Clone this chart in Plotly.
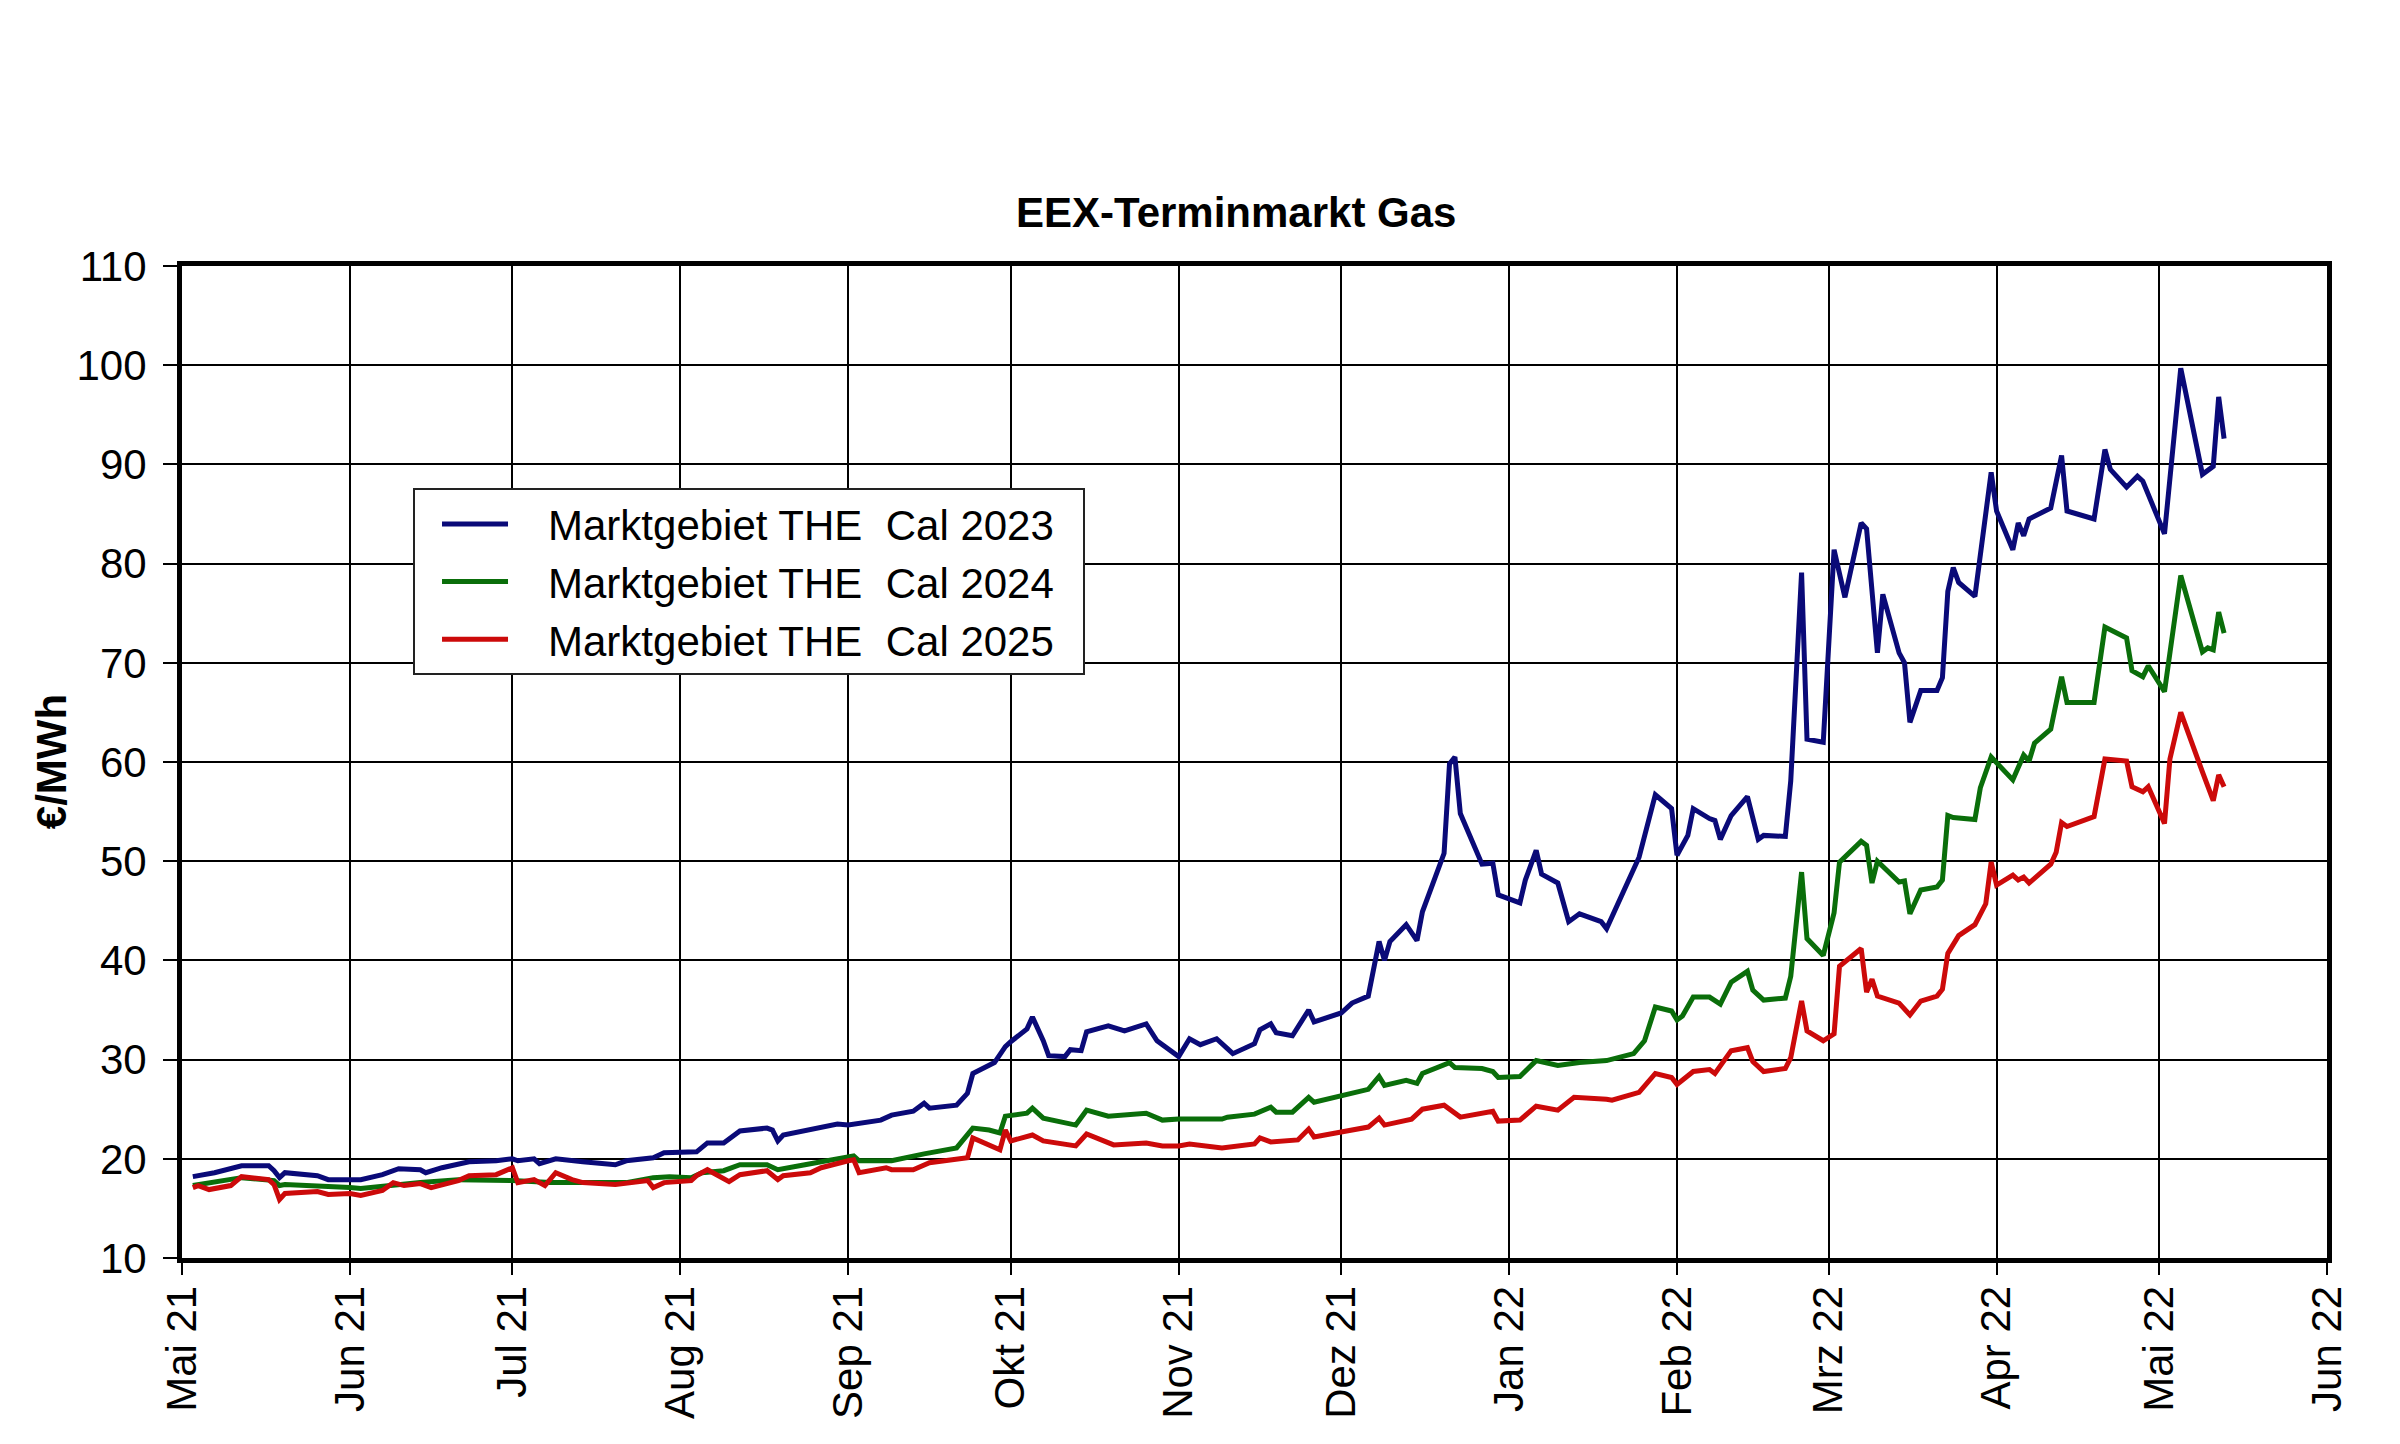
import plotly.graph_objects as go

# Marktgebiet THE Cal 2023
dates_2023 = [
    "2021-05-03", "2021-05-04", "2021-05-07", "2021-05-12", "2021-05-17", "2021-05-18", "2021-05-19",
    "2021-05-20", "2021-05-26", "2021-05-28", "2021-06-01", "2021-06-03", "2021-06-07", "2021-06-10",
    "2021-06-14", "2021-06-15", "2021-06-18", "2021-06-23", "2021-06-28", "2021-07-01", "2021-07-02",
    "2021-07-05", "2021-07-06", "2021-07-09", "2021-07-14", "2021-07-20", "2021-07-22", "2021-07-27",
    "2021-07-29", "2021-08-03", "2021-08-04", "2021-08-06", "2021-08-09", "2021-08-12", "2021-08-17",
    "2021-08-18", "2021-08-19", "2021-08-20", "2021-08-25", "2021-08-30", "2021-09-01", "2021-09-07",
    "2021-09-09", "2021-09-13", "2021-09-15", "2021-09-16", "2021-09-21", "2021-09-23", "2021-09-24",
    "2021-09-28", "2021-09-30", "2021-10-01", "2021-10-04", "2021-10-05", "2021-10-07", "2021-10-08",
    "2021-10-11", "2021-10-12", "2021-10-14", "2021-10-15", "2021-10-19", "2021-10-22", "2021-10-26",
    "2021-10-28", "2021-11-01", "2021-11-03", "2021-11-05", "2021-11-08", "2021-11-10", "2021-11-11",
    "2021-11-15", "2021-11-16", "2021-11-18", "2021-11-19", "2021-11-22", "2021-11-25", "2021-11-26",
    "2021-12-01", "2021-12-03", "2021-12-06", "2021-12-08", "2021-12-09", "2021-12-10", "2021-12-13",
    "2021-12-15", "2021-12-16", "2021-12-20", "2021-12-21", "2021-12-22", "2021-12-23", "2021-12-27",
    "2021-12-29", "2021-12-30", "2022-01-03", "2022-01-04", "2022-01-06", "2022-01-07", "2022-01-10",
    "2022-01-12", "2022-01-14", "2022-01-18", "2022-01-19", "2022-01-25", "2022-01-28", "2022-01-31",
    "2022-02-01", "2022-02-03", "2022-02-04", "2022-02-07", "2022-02-08", "2022-02-09", "2022-02-11",
    "2022-02-14", "2022-02-16", "2022-02-17", "2022-02-21", "2022-02-22", "2022-02-24", "2022-02-25",
    "2022-02-28", "2022-03-02", "2022-03-04", "2022-03-07", "2022-03-08", "2022-03-10", "2022-03-11",
    "2022-03-14", "2022-03-15", "2022-03-16", "2022-03-18", "2022-03-21", "2022-03-22", "2022-03-23",
    "2022-03-24", "2022-03-25", "2022-03-28", "2022-03-31", "2022-04-01", "2022-04-04", "2022-04-05",
    "2022-04-06", "2022-04-07", "2022-04-11", "2022-04-13", "2022-04-14", "2022-04-19", "2022-04-21",
    "2022-04-22", "2022-04-25", "2022-04-27", "2022-04-28", "2022-05-02", "2022-05-05", "2022-05-09",
    "2022-05-11", "2022-05-12", "2022-05-13",
]
cal_2023 = [
    18.2, 18.3, 18.6, 19.3, 19.3, 18.8, 18.1,
    18.6, 18.3, 17.9, 17.9, 17.9, 18.4, 19.0,
    18.9, 18.6, 19.1, 19.7, 19.8, 20.0, 19.8,
    20.0, 19.5, 20.0, 19.7, 19.4, 19.8, 20.1,
    20.6, 20.6, 20.7, 21.6, 21.6, 22.8, 23.1,
    22.9, 21.8, 22.4, 22.9, 23.5, 23.4, 23.9,
    24.4, 24.8, 25.6, 25.1, 25.4, 26.6, 28.6,
    29.7, 31.3, 31.8, 33.1, 34.3, 31.9, 30.4,
    30.3, 31.0, 30.9, 32.8, 33.4, 32.9, 33.6,
    31.9, 30.3, 32.1, 31.5, 32.1, 31.1, 30.6,
    31.6, 33.0, 33.6, 32.7, 32.4, 35.0, 33.8,
    34.7, 35.7, 36.4, 41.9, 40.0, 41.9, 43.6,
    42.0, 44.9, 50.8, 59.8, 60.5, 54.8, 49.7,
    49.8, 46.6, 45.8, 48.1, 51.1, 48.7, 47.8,
    43.9, 44.7, 43.9, 43.2, 50.4, 56.7, 55.3,
    50.6, 52.6, 55.3, 54.3, 54.1, 52.2, 54.6,
    56.5, 52.2, 52.6, 52.5, 58.1, 79.1, 62.3,
    62.0, 81.4, 76.6, 84.1, 83.5, 71.0, 76.9,
    71.0, 70.0, 64.0, 67.2, 67.2, 68.5, 77.2,
    79.6, 78.1, 76.7, 89.2, 85.3, 81.4, 84.1,
    82.8, 84.5, 85.6, 90.9, 85.3, 84.5, 91.5,
    89.5, 87.7, 88.8, 88.3, 83.0, 99.7, 89.0,
    89.8, 96.8, 92.6,
]

# Marktgebiet THE Cal 2024
dates_2024 = [
    "2021-05-03", "2021-05-12", "2021-05-18", "2021-05-19", "2021-05-20", "2021-05-26", "2021-06-01",
    "2021-06-03", "2021-06-08", "2021-06-14", "2021-06-21", "2021-06-25", "2021-07-01", "2021-07-08",
    "2021-07-15", "2021-07-22", "2021-07-27", "2021-07-30", "2021-08-03", "2021-08-05", "2021-08-09",
    "2021-08-12", "2021-08-17", "2021-08-19", "2021-08-24", "2021-08-30", "2021-09-02", "2021-09-03",
    "2021-09-09", "2021-09-15", "2021-09-21", "2021-09-24", "2021-09-27", "2021-09-29", "2021-09-30",
    "2021-10-04", "2021-10-05", "2021-10-07", "2021-10-13", "2021-10-15", "2021-10-19", "2021-10-26",
    "2021-10-29", "2021-11-01", "2021-11-09", "2021-11-10", "2021-11-15", "2021-11-18", "2021-11-19",
    "2021-11-22", "2021-11-25", "2021-11-26", "2021-12-01", "2021-12-06", "2021-12-08", "2021-12-09",
    "2021-12-13", "2021-12-15", "2021-12-16", "2021-12-21", "2021-12-22", "2021-12-27", "2021-12-29",
    "2021-12-30", "2022-01-03", "2022-01-06", "2022-01-10", "2022-01-14", "2022-01-19", "2022-01-24",
    "2022-01-26", "2022-01-28", "2022-01-31", "2022-02-01", "2022-02-02", "2022-02-04", "2022-02-07",
    "2022-02-09", "2022-02-11", "2022-02-14", "2022-02-15", "2022-02-17", "2022-02-21", "2022-02-22",
    "2022-02-24", "2022-02-25", "2022-02-28", "2022-03-02", "2022-03-03", "2022-03-07", "2022-03-08",
    "2022-03-09", "2022-03-10", "2022-03-14", "2022-03-15", "2022-03-16", "2022-03-18", "2022-03-21",
    "2022-03-22", "2022-03-23", "2022-03-24", "2022-03-28", "2022-03-29", "2022-03-31", "2022-04-04",
    "2022-04-06", "2022-04-07", "2022-04-08", "2022-04-11", "2022-04-13", "2022-04-14", "2022-04-19",
    "2022-04-21", "2022-04-25", "2022-04-26", "2022-04-28", "2022-04-29", "2022-05-02", "2022-05-05",
    "2022-05-09", "2022-05-10", "2022-05-11", "2022-05-12", "2022-05-13",
]
cal_2024 = [
    17.3, 18.1, 17.8, 17.3, 17.4, 17.3, 17.1,
    17.0, 17.3, 17.6, 17.9, 17.9, 17.8, 17.6,
    17.6, 17.6, 18.1, 18.2, 18.1, 18.6, 18.8,
    19.4, 19.4, 18.9, 19.4, 20.0, 20.3, 19.8,
    19.8, 20.5, 21.1, 23.1, 22.9, 22.6, 24.3,
    24.6, 25.1, 24.1, 23.4, 24.9, 24.3, 24.6,
    23.9, 24.0, 24.0, 24.2, 24.5, 25.2, 24.7,
    24.7, 26.2, 25.7, 26.4, 27.0, 28.3, 27.4,
    27.9, 27.6, 28.6, 29.7, 29.2, 29.1, 28.8,
    28.2, 28.3, 29.9, 29.4, 29.7, 29.9, 30.6,
    31.9, 35.3, 34.9, 34.0, 34.4, 36.3, 36.3,
    35.6, 37.8, 38.9, 37.0, 36.0, 36.2, 38.4,
    48.9, 42.2, 40.5, 44.8, 49.9, 52.0, 51.6,
    47.8, 50.0, 47.9, 48.0, 44.7, 47.1, 47.4,
    48.1, 54.6, 54.4, 54.2, 57.4, 60.5, 58.2,
    60.7, 60.1, 61.9, 63.3, 68.6, 66.0, 66.0,
    73.6, 72.5, 69.2, 68.6, 69.7, 67.1, 78.8,
    71.1, 71.5, 71.3, 75.1, 73.0,
]

# Marktgebiet THE Cal 2025
dates_2025 = [
    "2021-05-03", "2021-05-04", "2021-05-06", "2021-05-10", "2021-05-12", "2021-05-17", "2021-05-18",
    "2021-05-19", "2021-05-20", "2021-05-26", "2021-05-28", "2021-06-01", "2021-06-03", "2021-06-07",
    "2021-06-09", "2021-06-11", "2021-06-14", "2021-06-16", "2021-06-21", "2021-06-23", "2021-06-28",
    "2021-06-29", "2021-07-01", "2021-07-02", "2021-07-05", "2021-07-07", "2021-07-09", "2021-07-12",
    "2021-07-14", "2021-07-20", "2021-07-26", "2021-07-27", "2021-07-29", "2021-08-03", "2021-08-04",
    "2021-08-06", "2021-08-10", "2021-08-12", "2021-08-17", "2021-08-19", "2021-08-20", "2021-08-25",
    "2021-08-27", "2021-09-01", "2021-09-02", "2021-09-03", "2021-09-08", "2021-09-09", "2021-09-13",
    "2021-09-16", "2021-09-23", "2021-09-24", "2021-09-29", "2021-09-30", "2021-10-01", "2021-10-05",
    "2021-10-07", "2021-10-13", "2021-10-15", "2021-10-20", "2021-10-26", "2021-10-29", "2021-11-01",
    "2021-11-03", "2021-11-09", "2021-11-15", "2021-11-16", "2021-11-18", "2021-11-23", "2021-11-25",
    "2021-11-26", "2021-12-01", "2021-12-03", "2021-12-06", "2021-12-08", "2021-12-09", "2021-12-14",
    "2021-12-16", "2021-12-20", "2021-12-23", "2021-12-29", "2021-12-30", "2022-01-03", "2022-01-06",
    "2022-01-10", "2022-01-13", "2022-01-19", "2022-01-20", "2022-01-25", "2022-01-28", "2022-01-31",
    "2022-02-01", "2022-02-04", "2022-02-07", "2022-02-08", "2022-02-11", "2022-02-14", "2022-02-15",
    "2022-02-17", "2022-02-21", "2022-02-22", "2022-02-24", "2022-02-25", "2022-02-28", "2022-03-02",
    "2022-03-03", "2022-03-07", "2022-03-08", "2022-03-09", "2022-03-10", "2022-03-14", "2022-03-16",
    "2022-03-18", "2022-03-21", "2022-03-22", "2022-03-23", "2022-03-25", "2022-03-28", "2022-03-30",
    "2022-03-31", "2022-04-01", "2022-04-04", "2022-04-05", "2022-04-06", "2022-04-07", "2022-04-11",
    "2022-04-12", "2022-04-13", "2022-04-14", "2022-04-19", "2022-04-21", "2022-04-25", "2022-04-26",
    "2022-04-28", "2022-04-29", "2022-05-02", "2022-05-03", "2022-05-05", "2022-05-09", "2022-05-11",
    "2022-05-12", "2022-05-13",
]
cal_2025 = [
    17.1, 17.3, 16.9, 17.3, 18.2, 17.9, 17.4,
    15.9, 16.5, 16.7, 16.4, 16.5, 16.3, 16.8,
    17.6, 17.3, 17.5, 17.1, 17.8, 18.3, 18.4,
    18.6, 19.1, 17.6, 17.9, 17.3, 18.6, 17.9,
    17.6, 17.4, 17.8, 17.1, 17.6, 17.8, 18.3,
    18.9, 17.7, 18.4, 18.8, 17.9, 18.3, 18.6,
    19.1, 19.8, 19.9, 18.6, 19.1, 18.9, 18.9,
    19.6, 20.1, 22.1, 20.9, 22.9, 21.8, 22.4,
    21.8, 21.3, 22.5, 21.4, 21.6, 21.3, 21.3,
    21.5, 21.1, 21.5, 22.1, 21.7, 21.9, 23.0,
    22.2, 22.7, 22.9, 23.2, 24.1, 23.4, 24.0,
    25.0, 25.4, 24.2, 24.8, 23.8, 23.9, 25.3,
    24.9, 26.2, 26.0, 25.9, 26.7, 28.6, 28.2,
    27.5, 28.8, 29.0, 28.6, 30.9, 31.2, 29.8,
    28.8, 29.1, 30.2, 35.9, 32.9, 31.9, 32.6,
    39.4, 41.2, 36.8, 38.1, 36.4, 35.7, 34.5,
    35.9, 36.4, 37.1, 40.7, 42.5, 43.6, 45.7,
    49.9, 47.6, 48.6, 48.1, 48.4, 47.8, 49.7,
    50.9, 53.9, 53.5, 54.5, 60.3, 60.1, 57.5,
    57.0, 57.5, 53.8, 60.3, 65.0, 59.0, 56.1,
    58.7, 57.5,
]

month_ticks = [
    "2021-05-01", "2021-06-01", "2021-07-01", "2021-08-01", "2021-09-01", "2021-10-01", "2021-11-01",
    "2021-12-01", "2022-01-01", "2022-02-01", "2022-03-01", "2022-04-01", "2022-05-01", "2022-06-01",
]
month_labels = [
    "Mai 21", "Jun 21", "Jul 21", "Aug 21", "Sep 21", "Okt 21", "Nov 21",
    "Dez 21", "Jan 22", "Feb 22", "Mrz 22", "Apr 22", "Mai 22", "Jun 22",
]

font_name = "Liberation Sans"
gap = "\u00a0\u00a0\u00a0"
tail = "\u00a0\u00a0"

fig = go.Figure()
fig.add_trace(go.Scatter(x=dates_2023, y=cal_2023, mode="lines", legendgroup="a",
                         name=gap + "Marktgebiet THE \u00a0Cal 2023" + tail,
                         line=dict(color="#0a0a78", width=5)))
fig.add_trace(go.Scatter(x=dates_2024, y=cal_2024, mode="lines", legendgroup="b",
                         name=gap + "Marktgebiet THE \u00a0Cal 2024" + tail,
                         line=dict(color="#0a6e0a", width=5)))
fig.add_trace(go.Scatter(x=dates_2025, y=cal_2025, mode="lines", legendgroup="c",
                         name=gap + "Marktgebiet THE \u00a0Cal 2025" + tail,
                         line=dict(color="#cc0a0a", width=5)))

fig.update_layout(
    width=2400,
    height=1444,
    margin=dict(l=182, r=73, t=266, b=186, pad=0),
    paper_bgcolor="white",
    plot_bgcolor="white",
    font=dict(family=font_name, size=42, color="black"),
    title=dict(text="<b>EEX-Terminmarkt Gas</b>", x=0.4915, xref="paper", xanchor="center",
               y=1 - 212 / 1444, yanchor="middle", font=dict(size=42, family=font_name, color="black")),
    legend=dict(x=0.1077, y=0.776, xanchor="left", yanchor="top",
                bgcolor="white", bordercolor="#222222", borderwidth=2,
                font=dict(size=42, family=font_name, color="black"),
                itemwidth=66, indentation=22, tracegroupgap=0),
    showlegend=True,
)

fig.update_xaxes(
    type="date",
    range=["2021-05-01", "2022-06-01"],
    tickmode="array", tickvals=month_ticks, ticktext=month_labels, tickangle=-90,
    ticks="outside", ticklen=12, tickwidth=2, tickcolor="black", ticklabelstandoff=-6,
    showgrid=True, gridcolor="black", gridwidth=2,
    showline=True, linecolor="black", linewidth=5, mirror=True,
    tickfont=dict(size=42, family=font_name, color="black"),
    zeroline=False,
)
fig.update_yaxes(
    range=[10, 110], tick0=10, dtick=10,
    ticks="outside", ticklen=14, tickwidth=2, tickcolor="black", ticklabelstandoff=8,
    showgrid=True, gridcolor="black", gridwidth=2,
    showline=True, linecolor="black", linewidth=5, mirror=True,
    tickfont=dict(size=42, family=font_name, color="black"),
    zeroline=False,
)

fig.add_annotation(text="<b>€/MWh</b>", textangle=-90, x=-0.061, y=0.5,
                   xref="paper", yref="paper", xanchor="center", yanchor="middle",
                   showarrow=False, font=dict(size=42, family=font_name, color="black"))

# the page body has a default margin; drop it so the figure sits at the window origin
fig.write_html("out.html", config={"displayModeBar": False},
               post_script="document.body.style.margin='0';")
